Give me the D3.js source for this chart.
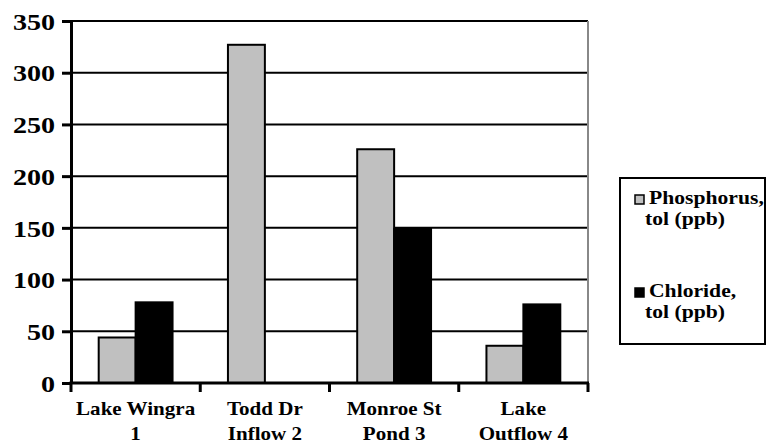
<!DOCTYPE html>
<html>
<head>
<meta charset="utf-8">
<script src="https://cdn.jsdelivr.net/npm/d3@7"></script>
</head>
<body style="margin:0;padding:0;background:#fff">
<svg id="chart" width="767" height="445" style="display:block"></svg>
<script>
// Sampling sites (two-line labels) and measured concentrations
const categories = [
  ["Lake Wingra", "1"],
  ["Todd Dr", "Inflow 2"],
  ["Monroe St", "Pond 3"],
  ["Lake", "Outflow 4"]
];
const phosphorus = [44, 327, 226, 36];
const chloride = [78, 0, 149, 76];
const seriesLabels = [
  ["Phosphorus,", "tol (ppb)"],
  ["Chloride,", "tol (ppb)"]
];
const seriesColors = ["#c0c0c0", "#000000"];
const yTicks = [0, 50, 100, 150, 200, 250, 300, 350];

const FONT = "Liberation Serif";
const svg = d3.select("#chart");
const plot = { left: 71, right: 588, top: 21, bottom: 383 };
const stretch = 1.17; // horizontal widening of the serif type

const x = d3.scaleBand()
  .domain(categories.map((d, i) => i))
  .range([plot.left, plot.right]);
const xs = d3.scaleBand()
  .domain([0, 1])
  .range([0, x.bandwidth()])
  .paddingOuter(0.75);
const y = d3.scaleLinear().domain([0, 350]).range([plot.bottom, plot.top]);

// Horizontal gridlines
svg.append("g")
  .selectAll("line")
  .data(yTicks.filter(t => t > 0))
  .join("line")
  .attr("x1", plot.left).attr("x2", plot.right)
  .attr("y1", d => y(d)).attr("y2", d => y(d))
  .attr("stroke", "#000").attr("stroke-width", 2);

// Right border of plot area
svg.append("line")
  .attr("x1", plot.right).attr("x2", plot.right)
  .attr("y1", plot.top).attr("y2", plot.bottom)
  .attr("stroke", "#888").attr("stroke-width", 2);

// Bars
const series = [phosphorus, chloride];
series.forEach((vals, s) => {
  svg.append("g")
    .selectAll("rect")
    .data(vals)
    .join("rect")
    .attr("x", (d, i) => x(i) + xs(s))
    .attr("y", d => y(d))
    .attr("width", xs.bandwidth())
    .attr("height", d => y(0) - y(d))
    .attr("fill", seriesColors[s])
    .attr("stroke", "#000")
    .attr("stroke-width", d => d > 0 ? 2 : 0);
});

// Y axis
const yAxis = svg.append("g")
  .attr("transform", `translate(${plot.left},0)`)
  .call(d3.axisLeft(y).tickValues(yTicks).tickSize(9).tickSizeOuter(0))
  .attr("font-family", FONT)
  .attr("font-size", 24)
  .attr("font-weight", "bold");
yAxis.select(".domain").attr("stroke", "#000").attr("stroke-width", 3);
yAxis.selectAll(".tick line").attr("stroke", "#000").attr("stroke-width", 3);
yAxis.selectAll(".tick text")
  .attr("x", -16 / stretch)
  .attr("dy", "0.34em")
  .attr("fill", "#000")
  .attr("transform", `scale(${stretch},1)`);

// X axis
const xAxisG = svg.append("g");
xAxisG.append("line")
  .attr("x1", plot.left - 1.5).attr("x2", plot.right + 1)
  .attr("y1", plot.bottom).attr("y2", plot.bottom)
  .attr("stroke", "#000").attr("stroke-width", 3);
const boundaries = d3.range(categories.length + 1).map(i => i === categories.length ? plot.right : x(i));
xAxisG.selectAll("line.tick")
  .data(boundaries)
  .join("line")
  .attr("class", "tick")
  .attr("x1", d => d).attr("x2", d => d)
  .attr("y1", plot.bottom).attr("y2", plot.bottom + 9)
  .attr("stroke", "#000").attr("stroke-width", 3);

const xl = xAxisG.selectAll("g.lbl")
  .data(categories)
  .join("g")
  .attr("class", "lbl")
  .attr("transform", (d, i) => `translate(${x(i) + x.bandwidth() / 2},0) scale(${stretch},1)`);
xl.selectAll("text")
  .data(d => d)
  .join("text")
  .attr("text-anchor", "middle")
  .attr("y", (d, j) => 415 + j * 25)
  .attr("font-family", FONT)
  .attr("font-weight", "bold")
  .attr("font-size", 18)
  .text(d => d);

// Legend
const legend = svg.append("g");
legend.append("rect")
  .attr("x", 620).attr("y", 178)
  .attr("width", 145).attr("height", 166)
  .attr("fill", "#fff").attr("stroke", "#000").attr("stroke-width", 2);
const items = legend.selectAll("g.item")
  .data(seriesLabels)
  .join("g")
  .attr("class", "item")
  .attr("transform", (d, i) => `translate(0,${i * 93})`);
items.append("rect")
  .attr("x", 635).attr("y", 195)
  .attr("width", 9).attr("height", 9)
  .attr("fill", (d, i) => seriesColors[i])
  .attr("stroke", "#000").attr("stroke-width", 1.5);
items.append("g")
  .attr("transform", `translate(649,0) scale(${stretch},1)`)
  .selectAll("text")
  .data(d => d)
  .join("text")
  .attr("x", (d, j) => j === 0 ? 0 : -4 / stretch)
  .attr("y", (d, j) => 204 + j * 21)
  .attr("font-family", FONT)
  .attr("font-weight", "bold")
  .attr("font-size", 18.5)
  .text(d => d);
</script>
</body>
</html>
